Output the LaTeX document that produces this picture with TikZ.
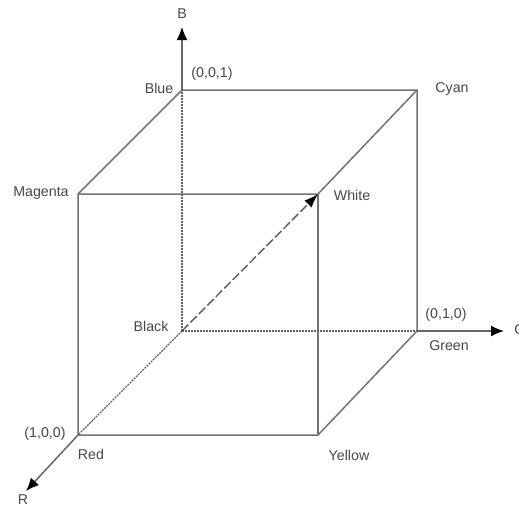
\documentclass[tikz,border=0pt]{standalone}
\usepackage{fontspec}
\setmainfont{Liberation Sans}
\usetikzlibrary{arrows.meta}
\tikzset{
  edge/.style={draw=black!55,line width=1.5pt},
  hidden/.style={draw=black!62,line width=1.2pt,dash pattern=on 2pt off 1pt},
  axis/.style={draw=black!60,line width=1.5pt,-{Latex[black,length=13pt,width=11pt]}},
  diag/.style={draw=black!65,line width=1.4pt,dash pattern=on 9pt off 3pt,-{Latex[black,length=14pt,width=10pt]}},
  lbl/.style={font=\fontsize{14.2}{16}\selectfont,text=black!72,inner sep=0pt,anchor=center}
}
\begin{document}
\begin{tikzpicture}[x=1pt,y=-1pt]
\useasboundingbox (0,0) rectangle (519,507);
\coordinate (K) at (182,331);
\coordinate (Bl) at (182,90);
\coordinate (Gr) at (417,331);
\coordinate (Cy) at (417,90);
\coordinate (Re) at (78,435);
\coordinate (Ma) at (78,194);
\coordinate (Ye) at (318,435);
\coordinate (Wh) at (318,194);
\coordinate (BT) at (182,27);
\coordinate (GT) at (504,331);
\coordinate (RT) at (26,491);
\draw[edge] (Bl) -- (Cy) -- (Gr) -- (Ye) -- (Re) -- (Ma) -- (Bl);
\draw[edge] (Ma) -- (Wh) -- (Cy);
\draw[edge] (Wh) -- (Ye);
\draw[hidden] (K) -- (Bl);
\draw[hidden] (K) -- (Gr);
\draw[hidden] (K) -- (Re);
\draw[axis] (Bl) -- (BT);
\draw[axis] (Gr) -- (GT);
\draw[axis] (Re) -- (RT);
\draw[diag] (K) -- (Wh);
\node[lbl] (tB) at (182,14) {B};
\node[lbl] (tG) at (520,330) {G};
\node[lbl] (tR) at (23,500) {R};
\node[lbl] (t001) at (212,74) {(0,0,1)};
\node[lbl] (tBlue) at (159,88) {Blue};
\node[lbl] (tCyan) at (452,89) {Cyan};
\node[lbl] (tMag) at (41,193) {Magenta};
\node[lbl] (tWhite) at (352,195) {White};
\node[lbl] (tBlack) at (151,326) {Black};
\node[lbl] (t010) at (446,315) {(0,1,0)};
\node[lbl] (tGreen) at (449,346) {Green};
\node[lbl] (t100) at (45,434) {(1,0,0)};
\node[lbl] (tRed) at (91,454) {Red};
\node[lbl] (tYellow) at (349,455) {Yellow};
\end{tikzpicture}
\end{document}
